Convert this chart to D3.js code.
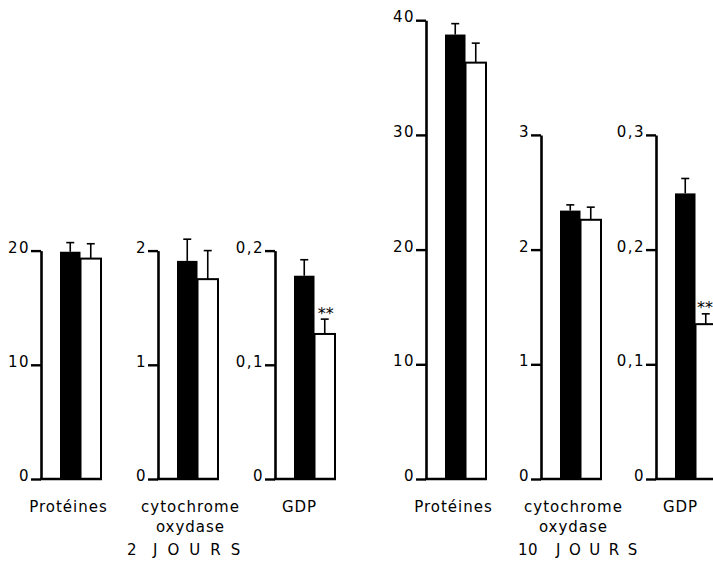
<!DOCTYPE html>
<html><head><meta charset="utf-8">
<script src="https://cdn.jsdelivr.net/npm/d3@7"></script>
<style>
body{margin:0;background:#fff}
svg{display:block;background:#fff}
text{font-family:"DejaVu Sans",sans-serif;fill:#000}
</style>
</head><body>
<svg id="chart" width="713" height="569"></svg>
<script>
// ---- data ----
const categories = ["Protéines", "cytochrome|oxydase", "GDP"];
const groupNumbers = ["2", "10"];
const groupWord = "JOURS";
const series = ["control", "treated"];

const control2j     = [19.9, 1.91, 0.178];
const control2jErr  = [0.8, 0.19, 0.014];
const treated2j     = [19.3, 1.75, 0.127];
const treated2jErr  = [1.3, 0.25, 0.013];
const signif2j      = ["", "", "**"];

const control10j    = [38.75, 2.34, 0.249];
const control10jErr = [0.95, 0.05, 0.013];
const treated10j    = [36.3, 2.26, 0.135];
const treated10jErr = [1.7, 0.11, 0.009];
const signif10j     = ["", "", "**"];

const axisMax2j  = [20, 2, 0.2];
const axisMax10j = [40, 3, 0.3];
const ticks2j  = [[0, 10, 20], [0, 1, 2], [0, 0.1, 0.2]];
const ticks10j = [[0, 10, 20, 30, 40], [0, 1, 2, 3], [0, 0.1, 0.2, 0.3]];
const tickStep = [10, 1, 0.1];

// ---- layout ----
const svg = d3.select("#chart");
const baseY = 479;
const labelOffset = [27, 32, 24];
const fmt = d3.formatLocale({decimal: ",", thousands: ".", grouping: [3], currency: ["", ""]}).format("~g");

const groups = [
  {num: groupNumbers[0], x0: 41, step: 117, pxStep: 114.2, numX: 127, wordX: 153, wordLs: 10,
   ctrl: control2j, ctrlErr: control2jErr, trt: treated2j, trtErr: treated2jErr,
   sig: signif2j, axisMax: axisMax2j, ticks: ticks2j},
  {num: groupNumbers[1], x0: 426, step: 115, pxStep: 114.7, numX: 518, wordX: 556, wordLs: 8.5,
   ctrl: control10j, ctrlErr: control10jErr, trt: treated10j, trtErr: treated10jErr,
   sig: signif10j, axisMax: axisMax10j, ticks: ticks10j}
];

groups.forEach(G => {
  const xCat = d3.scaleBand().domain(categories)
    .range([G.x0, G.x0 + 3 * G.step]).paddingInner(0).paddingOuter(0);

  categories.forEach((cat, i) => {
    const ax = xCat(cat);
    const top = baseY - (G.axisMax[i] / tickStep[i]) * G.pxStep;
    const y = d3.scaleLinear().domain([0, G.axisMax[i]]).range([baseY, top]);
    const xs = d3.scaleBand().domain(series).range([ax + 19, ax + 60]).padding(0);
    const g = svg.append("g");

    const vals = [
      {s: "control", v: G.ctrl[i], e: G.ctrlErr[i]},
      {s: "treated", v: G.trt[i], e: G.trtErr[i]}
    ];

    // error bars
    vals.forEach(d => {
      const cx = xs(d.s) + xs.bandwidth() / 2;
      g.append("line").attr("x1", cx).attr("x2", cx)
        .attr("y1", y(d.v)).attr("y2", y(d.v + d.e))
        .attr("stroke", "#000").attr("stroke-width", 1.6);
      g.append("line").attr("x1", cx - 4).attr("x2", cx + 4)
        .attr("y1", y(d.v + d.e)).attr("y2", y(d.v + d.e))
        .attr("stroke", "#000").attr("stroke-width", 1.6);
    });

    // treated (white) bar
    g.append("rect")
      .attr("x", xs("treated")).attr("y", y(G.trt[i]))
      .attr("width", xs.bandwidth()).attr("height", baseY - y(G.trt[i]))
      .attr("fill", "#fff").attr("stroke", "#000").attr("stroke-width", 2);
    // control (black) bar
    g.append("rect")
      .attr("x", xs("control")).attr("y", y(G.ctrl[i]))
      .attr("width", xs.bandwidth()).attr("height", baseY - y(G.ctrl[i]))
      .attr("fill", "#000");

    // significance
    if (G.sig[i]) {
      const cx = xs("treated") + xs.bandwidth() / 2;
      g.append("text").attr("x", Math.min(cx + 1, 705)).attr("y", y(G.trt[i] + G.trtErr[i]) - 0.5)
        .attr("text-anchor", "middle").attr("font-size", 16)
        .text(G.sig[i]);
    }

    // axis
    const axisG = g.append("g").attr("transform", `translate(${ax},0)`)
      .call(d3.axisLeft(y).tickValues(G.ticks[i]).tickFormat(fmt)
        .tickSize(10).tickSizeOuter(0).tickPadding(1));
    axisG.select(".domain").attr("stroke", "#000").attr("stroke-width", 2.6);
    axisG.selectAll(".tick line").attr("stroke", "#000").attr("stroke-width", 2.4);
    axisG.selectAll(".tick text").attr("dy", "0.1em")
      .attr("font-size", 15).attr("letter-spacing", 1.5)
      .attr("font-family", "DejaVu Sans").attr("fill", "#000");

    // baseline
    g.append("line").attr("x1", ax - 1).attr("x2", xs("treated") + xs.bandwidth() + 1)
      .attr("y1", baseY).attr("y2", baseY)
      .attr("stroke", "#000").attr("stroke-width", 2.6);

    // category label
    const lines = cat.split("|");
    const t = g.append("text").attr("y", 512)
      .attr("text-anchor", "middle").attr("font-size", 15).attr("letter-spacing", 1);
    lines.forEach((ln, k) => {
      t.append("tspan").attr("x", ax + labelOffset[i] + 0.5).attr("dy", k === 0 ? 0 : 20).text(ln);
    });
  });

  // group label
  svg.append("text").attr("x", G.numX).attr("y", 555)
    .attr("font-size", 15).attr("letter-spacing", 0.5).text(G.num);
  svg.append("text").attr("x", G.wordX).attr("y", 555)
    .attr("font-size", 15).attr("letter-spacing", G.wordLs).text(groupWord);
});
</script>
</body></html>
